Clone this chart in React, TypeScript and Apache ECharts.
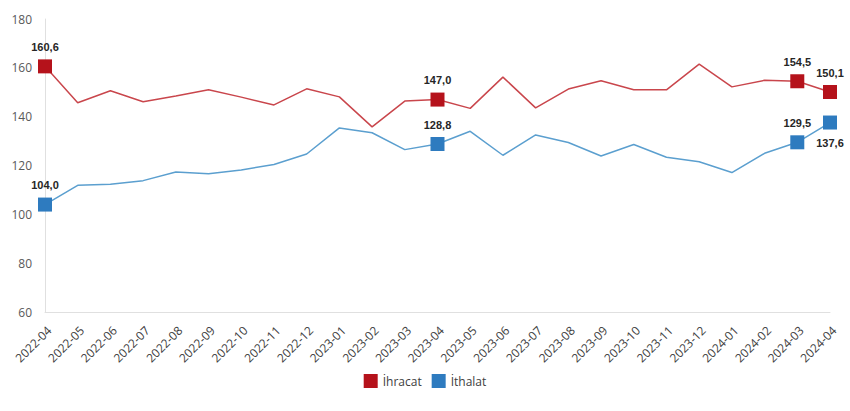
import React, { useEffect, useRef } from "react";
import * as echarts from "echarts";

const categories = [
  "2022-04","2022-05","2022-06","2022-07","2022-08","2022-09","2022-10","2022-11","2022-12",
  "2023-01","2023-02","2023-03","2023-04","2023-05","2023-06","2023-07","2023-08","2023-09",
  "2023-10","2023-11","2023-12","2024-01","2024-02","2024-03","2024-04",
];
const ihracat = [
  160.6, 145.7, 150.6, 146.1, 148.5, 151.0, 148.0, 144.8, 151.4,
  148.1, 135.8, 146.4, 147.0, 143.4, 156.2, 143.6, 151.3, 154.7,
  151.0, 151.0, 161.5, 152.2, 154.9, 154.5, 150.1,
];
const ithalat = [
  104.0, 111.9, 112.3, 113.8, 117.3, 116.6, 118.2, 120.4, 124.7,
  135.4, 133.4, 126.5, 128.8, 134.0, 124.2, 132.5, 129.4, 123.9,
  128.6, 123.4, 121.5, 117.1, 125.0, 129.5, 137.6,
];
const highlighted = [0, 12, 23, 24];
const belowLabel: Record<string, number[]> = { ithalat: [24] };

const fmt = (v: number) => v.toFixed(1).replace(".", ",");

function buildData(values: number[], key: string, markerColor: string) {
  return values.map((v, i) => {
    if (!highlighted.includes(i)) return { value: v, symbolSize: 0 };
    const below = (belowLabel[key] || []).includes(i);
    return {
      value: v,
      symbol: "rect",
      symbolSize: 14,
      itemStyle: { color: markerColor },
      label: {
        show: true,
        position: below ? "bottom" : "top",
        distance: below ? 8 : 7,
        formatter: () => fmt(v),
        fontSize: 11,
        fontWeight: "bold",
        color: "#262626",
        fontFamily: "Liberation Sans, Arial, sans-serif",
      },
    };
  });
}

export default function App() {
  const ref = useRef<HTMLDivElement>(null);
  useEffect(() => {
    if (!ref.current) return;
    const chart = echarts.init(ref.current, undefined, { renderer: "svg" });
    chart.setOption({
      animation: false,
      grid: { left: 45, right: 20, top: 19, bottom: 99 },
      legend: {
        bottom: 18,
        left: "center",
        itemWidth: 14,
        itemHeight: 14,
        itemGap: 10,
        icon: "rect",
        textStyle: { fontSize: 12, color: "#404040", fontFamily: "Open Sans, sans-serif" },
        data: [
          { name: "İhracat", itemStyle: { color: "#b5121b" } },
          { name: "İthalat", itemStyle: { color: "#2e7bbf" } },
        ],
      },
      xAxis: {
        type: "category",
        data: categories,
        boundaryGap: false,
        axisLine: { lineStyle: { color: "#e0e0e0" } },
        axisTick: { show: false },
        axisLabel: {
          rotate: 45,
          interval: 0,
          fontSize: 12,
          color: "#404040",
          margin: 12,
          verticalAlign: "top",
          fontFamily: "Open Sans, sans-serif",
        },
      },
      yAxis: {
        type: "value",
        min: 60,
        max: 180,
        interval: 20,
        axisLine: { show: true, lineStyle: { color: "#e0e0e0" } },
        axisTick: { show: false },
        splitLine: { show: false },
        axisLabel: { fontSize: 12, color: "#595959", margin: 13, fontFamily: "Open Sans, sans-serif" },
      },
      series: [
        {
          name: "İhracat",
          type: "line",
          data: buildData(ihracat, "ihracat", "#b5121b"),
          symbol: "rect",
          showAllSymbol: true,
          lineStyle: { color: "#c9464c", width: 1.5 },
          itemStyle: { color: "#b5121b" },
          z: 3,
        },
        {
          name: "İthalat",
          type: "line",
          data: buildData(ithalat, "ithalat", "#2e7bbf"),
          symbol: "rect",
          showAllSymbol: true,
          lineStyle: { color: "#5b9fcf", width: 1.5 },
          itemStyle: { color: "#2e7bbf" },
          z: 3,
        },
      ],
    });
    return () => chart.dispose();
  }, []);
  return <div ref={ref} style={{ width: 850, height: 411, position: "absolute", left: 0, top: 0 }} />;
}
